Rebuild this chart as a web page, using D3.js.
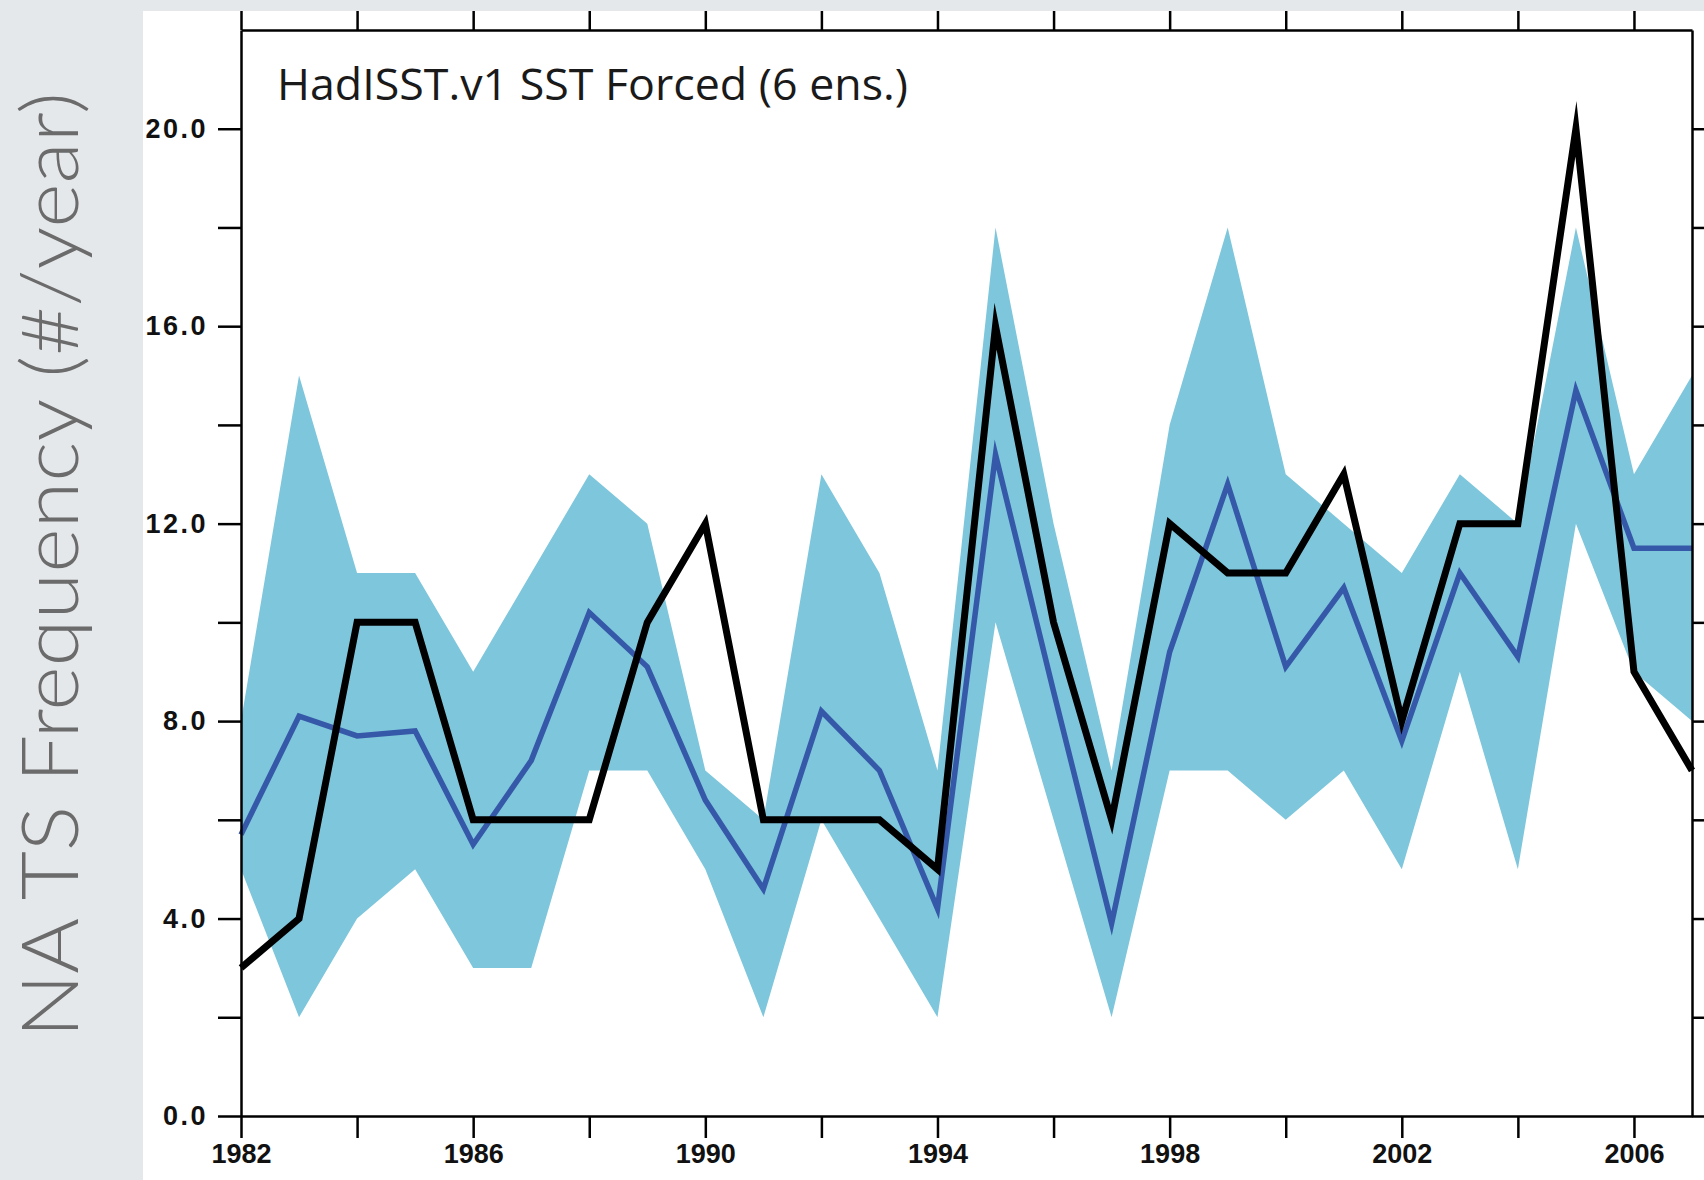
<!DOCTYPE html>
<html>
<head>
<meta charset="utf-8">
<script src="https://cdnjs.cloudflare.com/ajax/libs/d3/7.8.5/d3.min.js"></script>
<style>
  body { margin: 0; background: #e5e8eb; overflow: hidden; }
</style>
</head>
<body>
<div id="chart"></div>
<script>
// years on the x axis
var years = [1982, 1983, 1984, 1985, 1986, 1987, 1988, 1989, 1990, 1991, 1992, 1993, 1994,
             1995, 1996, 1997, 1998, 1999, 2000, 2001, 2002, 2003, 2004, 2005, 2006, 2007];
// observed NA TS counts (black)
var observed = [3, 4, 10, 10, 6, 6, 6, 10, 12, 6, 6, 6, 5, 16, 10, 6, 12, 11, 11, 13, 8, 12, 12, 20, 9, 7];
// ensemble mean (blue)
var ensMean = [5.7, 8.1, 7.7, 7.8, 5.5, 7.2, 10.2, 9.1, 6.4, 4.6, 8.2, 7.0, 4.2, 13.4, 8.6, 3.9,
               9.4, 12.8, 9.1, 10.7, 7.6, 11.0, 9.3, 14.7, 11.5, 11.5];
// ensemble spread (shaded band)
var ensMax = [8, 15, 11, 11, 9, 11, 13, 12, 7, 6, 13, 11, 7, 18, 12, 7, 14, 18, 13, 12, 11, 13, 12, 18, 13, 15];
var ensMin = [5, 2, 4, 5, 3, 3, 7, 7, 5, 2, 6, 4, 2, 10, 6, 2, 7, 7, 6, 7, 5, 9, 5, 12, 9, 8];
// ticks
var xTicks = [1982, 1984, 1986, 1988, 1990, 1992, 1994, 1996, 1998, 2000, 2002, 2004, 2006];
var xLabels = [1982, 1986, 1990, 1994, 1998, 2002, 2006];
var yTicks = [0, 2, 4, 6, 8, 10, 12, 14, 16, 18, 20];
var yLabels = [0, 4, 8, 12, 16, 20];

var titleText = "HadISST.v1 SST Forced (6 ens.)";
var yTitle = "NA TS Frequency (#/year)";

var W = 1704, H = 1180;
var margin = { top: 30, left: 241, right: 12, bottom: 64 };

var data = years.map(function(yr, i) {
  return { year: yr, obs: observed[i], mean: ensMean[i], lo: ensMin[i], hi: ensMax[i] };
});

var x = d3.scaleLinear()
  .domain([years[0], years[years.length - 1]])
  .range([margin.left, W - margin.right]);
var y = d3.scaleLinear()
  .domain([0, 22])
  .range([H - margin.bottom, margin.top]);

var svg = d3.select("#chart").append("svg")
  .attr("width", W)
  .attr("height", H)
  .style("display", "block");

// white panel (the figure sits on a grey slide)
svg.append("rect")
  .attr("x", 143).attr("y", 11)
  .attr("width", W - 143).attr("height", H - 11)
  .attr("fill", "#ffffff");

var band = d3.area()
  .x(function(d) { return x(d.year); })
  .y0(function(d) { return y(d.lo); })
  .y1(function(d) { return y(d.hi); });

var line_mean = d3.line()
  .x(function(d) { return x(d.year); })
  .y(function(d) { return y(d.mean); });

var line_obs = d3.line()
  .x(function(d) { return x(d.year); })
  .y(function(d) { return y(d.obs); });

svg.append("path")
  .datum(data)
  .attr("fill", "#7ec6dc")
  .attr("d", band);

svg.append("path")
  .datum(data)
  .attr("fill", "none")
  .attr("stroke", "#3658a8")
  .attr("stroke-width", 5.5)
  .attr("stroke-miterlimit", 12)
  .attr("d", line_mean);

svg.append("path")
  .datum(data)
  .attr("fill", "none")
  .attr("stroke", "#000")
  .attr("stroke-width", 7)
  .attr("stroke-miterlimit", 12)
  .attr("d", line_obs);

// axes
function styleAxis(g) {
  g.select(".domain").attr("stroke", "#000").attr("stroke-width", 2.5);
  g.selectAll(".tick line").attr("stroke", "#000").attr("stroke-width", 2.5);
  g.selectAll(".tick text")
    .attr("fill", "#111")
    .style("font-family", "'Liberation Sans', Arial, sans-serif")
    .style("font-weight", "bold")
    .style("font-size", "27px");
}

svg.append("g")
  .attr("transform", "translate(0," + y(0) + ")")
  .call(d3.axisBottom(x).tickValues(xTicks).tickSize(22).tickSizeOuter(0).tickPadding(6)
    .tickFormat(function(d) { return xLabels.indexOf(d) >= 0 ? d : ""; }))
  .call(styleAxis);

svg.append("g")
  .attr("transform", "translate(0," + margin.top + ")")
  .call(d3.axisTop(x).tickValues(xTicks).tickSize(19).tickSizeOuter(0).tickFormat(""))
  .call(styleAxis);

svg.append("g")
  .attr("transform", "translate(" + margin.left + ",0)")
  .call(d3.axisLeft(y).tickValues(yTicks).tickSize(23).tickSizeOuter(0).tickPadding(10)
    .tickFormat(function(d) { return yLabels.indexOf(d) >= 0 ? d3.format(".1f")(d) : ""; }))
  .call(styleAxis)
  .selectAll(".tick text").style("letter-spacing", "2.5px");

svg.append("g")
  .attr("transform", "translate(" + x(years[years.length - 1]) + ",0)")
  .call(d3.axisRight(y).tickValues(yTicks).tickSize(23).tickSizeOuter(0).tickFormat(""))
  .call(styleAxis);

// title inside the plot
svg.append("text")
  .attr("x", 277)
  .attr("y", 100)
  .attr("textLength", 631)
  .attr("lengthAdjust", "spacingAndGlyphs")
  .text(titleText)
  .style("font-family", "'Open Sans', 'Noto Sans', sans-serif")
  .style("font-size", "44px")
  .attr("fill", "#1a1a1a");

// y axis title on the grey margin
svg.append("text")
  .attr("transform", "translate(78,565) rotate(-90)")
  .attr("text-anchor", "middle")
  .attr("textLength", 946)
  .attr("lengthAdjust", "spacingAndGlyphs")
  .text(yTitle)
  .style("font-family", "Lato, 'Open Sans', sans-serif")
  .style("font-weight", "300")
  .style("font-size", "78px")
  .attr("fill", "#6b6b6b");
</script>
</body>
</html>
